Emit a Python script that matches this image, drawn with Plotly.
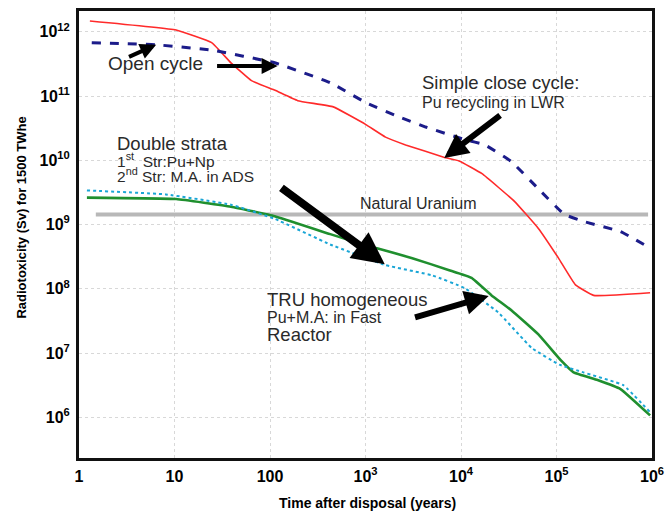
import plotly.graph_objects as go

# Time after disposal (years) and radiotoxicity (Sv) per fuel-cycle option
open_t = [1.36, 6.4, 24.5, 112, 427, 1010, 2290, 4270, 11000, 17800, 33900, 64600, 120000, 191000, 468000, 955000]
open_sv = [6.8e11, 6.3e11, 5.2e11, 3.3e11, 1.62e11, 7.9e10, 4.7e10, 3.3e10, 2.1e10, 1.74e10, 9.5e9, 3.6e9, 1.45e9, 1.12e9, 7.8e8, 4.3e8]

close_t = [1.3, 10.4, 24.5, 39, 64, 113, 195, 460, 1010, 1620, 2630, 6600, 9550, 16600, 36300, 64600, 105000, 158000, 245000, 955000]
close_sv = [1.48e12, 1.07e12, 6.8e11, 3.3e11, 1.74e11, 1.23e11, 8.5e10, 6.8e10, 3.6e10, 2.3e10, 1.74e10, 1.12e10, 9.8e9, 6.2e9, 2.3e9, 8.7e8, 3.0e8, 1.15e8, 7.9e7, 8.7e7]

tru_t = [1.21, 10.4, 39, 112, 427, 1290, 3090, 7520, 12900, 20900, 33900, 64600, 112000, 151000, 269000, 468000, 955000]
tru_sv = [2.63e9, 2.5e9, 1.9e9, 1.35e9, 7.1e8, 4.3e8, 3.0e8, 1.95e8, 1.48e8, 7.9e7, 4.6e7, 1.95e7, 7.6e6, 5.0e6, 3.8e6, 2.75e6, 1.07e6]

ds_t = [1.21, 8.1, 39, 112, 427, 1620, 5010, 11000, 24500, 55000, 107000, 191000, 500000, 955000]
ds_sv = [3.4e9, 2.95e9, 2.04e9, 1.23e9, 4.9e8, 2.34e8, 1.62e8, 1.02e8, 4.3e7, 1.2e7, 6.6e6, 5.0e6, 3.16e6, 1.2e6]

nat_u_t = [1.5, 910000]
nat_u_sv = [1.43e9, 1.43e9]

x_ticks = [1, 10, 100, 1e3, 1e4, 1e5, 1e6]
x_labels = ["1", "10", "100", "10<sup>3</sup>", "10<sup>4</sup>", "10<sup>5</sup>", "10<sup>6</sup>"]
y_ticks = [1e6, 1e7, 1e8, 1e9, 1e10, 1e11, 1e12]
y_labels = ["10<sup>6</sup>", "10<sup>7</sup>", "10<sup>8</sup>", "10<sup>9</sup>",
            "10<sup>10</sup>", "10<sup>11</sup>", "10<sup>12</sup>"]

FONT = "Liberation Sans, Arial, sans-serif"
SMOOTH = dict(shape="spline", smoothing=0.3)

fig = go.Figure()
fig.add_trace(go.Scatter(x=nat_u_t, y=nat_u_sv, mode="lines",
                         line=dict(color="#b8b8b8", width=4), hoverinfo="skip"))
fig.add_trace(go.Scatter(x=close_t, y=close_sv, mode="lines",
                         line=dict(color="#ff2a2a", width=1.6, **SMOOTH)))
fig.add_trace(go.Scatter(x=open_t, y=open_sv, mode="lines",
                         line=dict(color="#1c1c8a", width=3, dash="dash", **SMOOTH)))
fig.add_trace(go.Scatter(x=tru_t, y=tru_sv, mode="lines",
                         line=dict(color="#1f8f2e", width=2.6, **SMOOTH)))
fig.add_trace(go.Scatter(x=ds_t, y=ds_sv, mode="lines",
                         line=dict(color="#1aa6d6", width=2, dash="dot", **SMOOTH)))

txt = "#2a2a2a"
labels = [
    (0.28, 11.505, "Open cycle", 19),
    (3.575, 11.21, "Simple close cycle:", 18.5),
    (3.575, 10.90, "Pu recycling in LWR", 16),
    (0.373, 10.26, "Double strata", 18.5),
    (0.373, 10.006, "1<sup>st</sup>  Str:Pu+Np", 15.5),
    (0.373, 9.770, "2<sup>nd</sup> Str: M.A. in ADS", 15.5),
    (1.948, 7.83, "TRU homogeneous", 18.5),
    (1.948, 7.549, "Pu+M.A: in Fast", 16),
    (1.948, 7.295, "Reactor", 18.5),
]
for x, y, t, s in labels:
    fig.add_annotation(x=x, y=y, text=t, showarrow=False, xanchor="left", yanchor="middle",
                       font=dict(family=FONT, size=s, color=txt))
fig.add_annotation(x=3.554, y=9.326, text="Natural Uranium", showarrow=False,
                   xanchor="center", yanchor="middle", font=dict(family=FONT, size=16, color=txt))

# pointer arrows: (tail x, tail y, head x, head y, width), coordinates in log10 units
arrows = [
    (0.508, 11.60, 0.808, 11.80, 4),
    (1.43, 11.47, 2.08, 11.47, 4),
    (4.425, 10.717, 3.824, 10.037, 6),
    (2.104, 9.589, 3.202, 8.383, 8),
    (3.503, 7.549, 4.29, 7.889, 6),
]
for ax, ay, hx, hy, w in arrows:
    fig.add_annotation(x=hx, y=hy, ax=ax, ay=ay, xref="x", yref="y", axref="x", ayref="y",
                       text="", showarrow=True, arrowhead=2, arrowsize=0.8, arrowwidth=w,
                       arrowcolor="black", standoff=0)

# axis titles
fig.add_annotation(x=-0.1002, y=0.537, xref="paper", yref="paper", xanchor="center", yanchor="middle",
                   text="Radiotoxicity (Sv) for 1500 TWhe", textangle=-90, showarrow=False,
                   font=dict(family=FONT, size=13, color="black", weight="bold"))
fig.add_annotation(x=0.503, y=-0.1, xref="paper", yref="paper", xanchor="center", yanchor="middle",
                   text="Time after disposal (years)", showarrow=False,
                   font=dict(family=FONT, size=14, color="black", weight="bold"))

axis_common = dict(type="log", showline=True, mirror=True, linecolor="#111", linewidth=3,
                   showgrid=True, gridcolor="#d8d8d8", griddash="dot", gridwidth=1,
                   ticks="", zeroline=False,
                   tickfont=dict(family=FONT, size=16, color="black", weight="bold"))

fig.update_layout(
    width=672, height=514,
    margin=dict(l=79, r=14, t=8, b=56),
    paper_bgcolor="white", plot_bgcolor="white",
    showlegend=False,
    xaxis=dict(axis_common, range=[0, 6], tickvals=x_ticks, ticktext=x_labels, ticklabelstandoff=2),
    yaxis=dict(axis_common, range=[5.366, 12.325], tickvals=y_ticks, ticktext=y_labels, ticklabelstandoff=3),
)

fig.write_html("out.html")
